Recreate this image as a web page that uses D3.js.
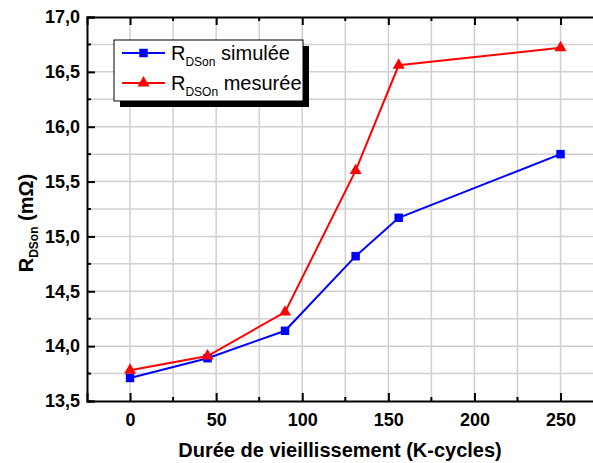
<!DOCTYPE html>
<html><head><meta charset="utf-8">
<script src="https://cdn.jsdelivr.net/npm/d3@7"></script>
<style>body{margin:0;background:#fff}svg{display:block}</style>
</head><body><svg id="c" width="593" height="463"></svg>
<script>
const cycles = [0, 45, 90, 131, 156, 250];
const simulee = [13.71, 13.89, 14.14, 14.82, 15.17, 15.75];
const mesuree = [13.78, 13.91, 14.31, 15.60, 16.56, 16.72];
const xTicks = [0, 50, 100, 150, 200, 250];
const yTicks = [13.5, 14.0, 14.5, 15.0, 15.5, 16.0, 16.5, 17.0];
const seriesNames = ["simulée", "mesurée"];
const seriesSubs = ["DSon", "DSOn"];

const svg = d3.select("#c");
const x = d3.scaleLinear().domain([-25, 275]).range([87, 603.6]);
const y = d3.scaleLinear().domain([13.5, 17.0]).range([401, 17]);
const fmt = d => d.toFixed(1).replace(".", ",");

// grid
const gx = d3.range(-25, 276, 25), gy = d3.range(13.5, 17.01, 0.25);
svg.append("g").selectAll("line").data(gx.filter(v => v > -25)).join("line")
  .attr("x1", d => x(d)).attr("x2", d => x(d)).attr("y1", y(13.5)).attr("y2", y(17))
  .attr("stroke", "#d0d0d0").attr("stroke-width", 1.5);
svg.append("g").selectAll("line").data(gy.filter(v => v > 13.5 && v < 17)).join("line")
  .attr("x1", x(-25)).attr("x2", 603).attr("y1", d => y(d)).attr("y2", d => y(d))
  .attr("stroke", "#d0d0d0").attr("stroke-width", 1.5);

// axes
const font = "'Liberation Sans', Arial, sans-serif";
const ax = svg.append("g").attr("transform", `translate(0,${y(13.5)})`)
  .call(d3.axisBottom(x).tickValues(xTicks).tickSize(-8).tickPadding(12).tickFormat(d3.format("d")));
const axTop = svg.append("g").attr("transform", `translate(0,${y(17)})`)
  .call(d3.axisTop(x).tickValues(xTicks).tickSize(-8).tickFormat(""));
const axL = svg.append("g").attr("transform", `translate(${x(-25)},0)`)
  .call(d3.axisLeft(y).tickValues(yTicks).tickSize(-8).tickPadding(7).tickFormat(fmt));
// minor ticks
const minX = [25, 75, 125, 175, 225];
const minY = d3.range(13.75, 17, 0.5);
svg.append("g").selectAll("line").data(minX).join("line")
  .attr("x1", d => x(d)).attr("x2", d => x(d)).attr("y1", y(13.5)).attr("y2", y(13.5) - 4)
  .attr("stroke", "#000").attr("stroke-width", 2);
svg.append("g").selectAll("line").data(minX).join("line")
  .attr("x1", d => x(d)).attr("x2", d => x(d)).attr("y1", y(17)).attr("y2", y(17) + 4)
  .attr("stroke", "#000").attr("stroke-width", 2);
svg.append("g").selectAll("line").data(minY).join("line")
  .attr("x1", x(-25)).attr("x2", x(-25) + 4).attr("y1", d => y(d)).attr("y2", d => y(d))
  .attr("stroke", "#000").attr("stroke-width", 2);
[ax, axTop, axL].forEach(g => {
  g.select(".domain").attr("stroke", "#000").attr("stroke-width", 2);
  g.selectAll(".tick line").attr("stroke", "#000").attr("stroke-width", 2);
  g.selectAll("text").attr("font-family", font).attr("font-weight", "bold").attr("font-size", 18).attr("fill", "#000");
});

// lines and markers
const line = d3.line().x((d, i) => x(cycles[i])).y(d => y(d));
svg.append("path").datum(simulee).attr("d", line).attr("fill", "none").attr("stroke", "#0000ff").attr("stroke-width", 2);
svg.append("path").datum(mesuree).attr("d", line).attr("fill", "none").attr("stroke", "#ff0000").attr("stroke-width", 2);
const sq = d3.symbol().type(d3.symbolSquare).size(72);
const tri = d3.symbol().type(d3.symbolTriangle).size(62);
svg.append("g").selectAll("path").data(simulee).join("path")
  .attr("d", sq).attr("transform", (d, i) => `translate(${x(cycles[i])},${y(d)})`).attr("fill", "#0000ff");
svg.append("g").selectAll("path").data(mesuree).join("path")
  .attr("d", tri).attr("transform", (d, i) => `translate(${x(cycles[i])},${y(d)})`).attr("fill", "#ff0000");

// axis titles
svg.append("text").attr("x", 340).attr("y", 457).attr("text-anchor", "middle")
  .attr("font-family", font).attr("font-weight", "bold").attr("font-size", 20).text("Durée de vieillissement (K-cycles)");
const yt = svg.append("text").attr("transform", "translate(33,223) rotate(-90)").attr("text-anchor", "middle")
  .attr("font-family", font).attr("font-weight", "bold").attr("font-size", 20);
yt.append("tspan").text("R");
yt.append("tspan").attr("font-size", 12).attr("dy", 5).text("DSon");
yt.append("tspan").attr("dy", -5).text(" (mΩ)");

// legend
const lg = svg.append("g");
lg.append("rect").attr("x", 120).attr("y", 46).attr("width", 189).attr("height", 61).attr("fill", "#000");
lg.append("rect").attr("x", 114).attr("y", 40).attr("width", 189).attr("height", 61).attr("fill", "#fff").attr("stroke", "#000").attr("stroke-width", 1);
const cols = ["#0000ff", "#ff0000"];
[0, 1].forEach(i => {
  const ly = 53 + i * 30;
  lg.append("line").attr("x1", 122).attr("x2", 165).attr("y1", ly).attr("y2", ly).attr("stroke", cols[i]).attr("stroke-width", 2);
  lg.append("path").attr("d", i === 0 ? sq : tri).attr("transform", `translate(143.5,${ly})`).attr("fill", cols[i]);
  const t = lg.append("text").attr("x", 171).attr("y", ly + 7).attr("font-family", font).attr("font-size", 20);
  t.append("tspan").text("R");
  t.append("tspan").attr("font-size", 12).attr("dy", 6).text(seriesSubs[i]);
  t.append("tspan").attr("dy", -6).text(" " + seriesNames[i]);
});
</script></body></html>
